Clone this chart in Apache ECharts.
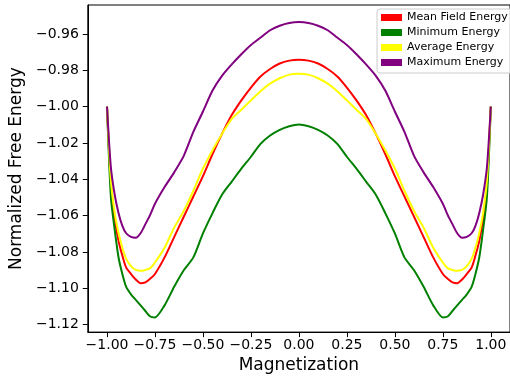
<!DOCTYPE html>
<html><head><meta charset="utf-8">
<script src="https://cdn.jsdelivr.net/npm/echarts@6/dist/echarts.min.js"></script>
<style>html,body{margin:0;padding:0;background:#fff;overflow:hidden}#c{width:510px;height:379px}</style>
</head><body><div id="c"></div>
<script>
const magnetization = [-1.00,-0.98,-0.96,-0.94,-0.92,-0.90,-0.875,-0.85,-0.825,-0.80,-0.775,-0.75,-0.70,-0.65,-0.60,-0.55,-0.50,-0.45,-0.40,-0.35,-0.30,-0.25,-0.20,-0.15,-0.10,-0.05,0.00,
  0.05,0.10,0.15,0.20,0.25,0.30,0.35,0.40,0.45,0.50,0.55,0.60,0.65,0.70,0.75,0.775,0.80,0.825,0.85,0.875,0.90,0.92,0.94,0.96,0.98,1.00];
const meanFieldEnergy = [-1.000,-1.0423,-1.0616,-1.0738,-1.082,-1.0886,-1.0921,-1.0952,-1.0972,-1.0967,-1.0947,-1.0921,-1.083,-1.0718,-1.0606,-1.0495,-1.0383,-1.0261,-1.0149,-1.0047,-0.9966,-0.9895,-0.9834,-0.9793,-0.9763,-0.9747,-0.9742,
  -0.9747,-0.9763,-0.9793,-0.9834,-0.9895,-0.9966,-1.0047,-1.0149,-1.0261,-1.0383,-1.0495,-1.0606,-1.0718,-1.083,-1.0921,-1.0947,-1.0967,-1.0972,-1.0952,-1.0921,-1.0886,-1.082,-1.0738,-1.0616,-1.0423,-1.000];
const minimumEnergy = [-1.000,-1.0495,-1.0677,-1.0829,-1.0921,-1.0992,-1.1033,-1.1064,-1.1094,-1.1125,-1.1155,-1.116,-1.1094,-1.0992,-1.0901,-1.083,-1.0698,-1.0586,-1.0484,-1.0413,-1.0342,-1.0276,-1.0205,-1.0159,-1.0128,-1.0108,-1.0098,
  -1.0108,-1.0128,-1.0159,-1.0205,-1.0276,-1.0342,-1.0413,-1.0484,-1.0586,-1.0698,-1.083,-1.0901,-1.0992,-1.1094,-1.116,-1.1155,-1.1125,-1.1094,-1.1064,-1.1033,-1.0992,-1.0921,-1.0829,-1.0677,-1.0495,-1.000];
const averageEnergy = [-1.000,-1.0403,-1.0584,-1.0696,-1.0777,-1.0838,-1.0878,-1.0899,-1.0904,-1.0899,-1.0889,-1.0858,-1.0777,-1.0666,-1.0575,-1.0463,-1.0341,-1.024,-1.0149,-1.0068,-1.0017,-0.9966,-0.9915,-0.9874,-0.9844,-0.9824,-0.9819,
  -0.9824,-0.9844,-0.9874,-0.9915,-0.9966,-1.0017,-1.0068,-1.0149,-1.024,-1.0341,-1.0463,-1.0575,-1.0666,-1.0777,-1.0858,-1.0889,-1.0899,-1.0904,-1.0899,-1.0878,-1.0838,-1.0777,-1.0696,-1.0584,-1.0403,-1.000];
const maximumEnergy = [-1.000,-1.0332,-1.0484,-1.0585,-1.0656,-1.0697,-1.0717,-1.0722,-1.0697,-1.0647,-1.0596,-1.0535,-1.0443,-1.0362,-1.0271,-1.0139,-1.0027,-0.9912,-0.9830,-0.9768,-0.9712,-0.9661,-0.962,-0.958,-0.9555,-0.954,-0.9535,
  -0.954,-0.9555,-0.958,-0.962,-0.9661,-0.9712,-0.9768,-0.9830,-0.9912,-1.0027,-1.0139,-1.0271,-1.0362,-1.0443,-1.0535,-1.0596,-1.0647,-1.0697,-1.0722,-1.0717,-1.0697,-1.0656,-1.0585,-1.0484,-1.0332,-1.000];
const seriesNames = ['Mean Field Energy','Minimum Energy','Average Energy','Maximum Energy'];
const seriesColors = ['#ff0000','#008000','#ffff00','#800080'];
const xTicks = [-1.00,-0.75,-0.50,-0.25,0.00,0.25,0.50,0.75,1.00];
const yTicks = [-1.12,-1.10,-1.08,-1.06,-1.04,-1.02,-1.00,-0.98,-0.96];

const seriesValues = [meanFieldEnergy, minimumEnergy, averageEnergy, maximumEnergy];
const FONT = 'DejaVu Sans';
const fmt = v => (Math.abs(v) < 1e-9 ? 0 : v).toFixed(2).replace('-', '\u2212');
const chart = echarts.init(document.getElementById('c'), null, {renderer: 'canvas'});
chart.setOption({
  animation: false,
  backgroundColor: '#fff',
  grid: {left: 87, top: 5, width: 425, height: 328, show: true, borderColor: '#000', borderWidth: 1, backgroundColor: 'transparent'},
  legend: {
    orient: 'vertical', left: 377, top: 9,
    data: seriesNames.map((n, i) => ({name: n, icon: 'rect', itemStyle: {color: seriesColors[i]}})),
    itemWidth: 21, itemHeight: 7, itemGap: 4, itemTextGap: 8,
    textStyle: {fontFamily: FONT, fontSize: 11, lineHeight: 11, color: '#000'},
    padding: [3, 8, 5, 4],
    backgroundColor: 'rgba(255,255,255,0.8)', borderColor: '#cccccc', borderWidth: 1, borderRadius: 3
  },
  xAxis: {
    type: 'value', min: -1.1, max: 1.1,
    name: 'Magnetization', nameLocation: 'middle', nameGap: 24,
    nameTextStyle: {fontFamily: FONT, fontSize: 17, color: '#000'},
    axisLine: {onZero: false, lineStyle: {color: '#000', width: 1}},
    axisTick: {show: true, customValues: xTicks, length: 5, lineStyle: {color: '#000'}},
    axisLabel: {customValues: xTicks, formatter: fmt, margin: 6, fontFamily: FONT, fontSize: 14, color: '#000'},
    splitLine: {show: false}
  },
  yAxis: {
    type: 'value', min: -1.1241, max: -0.9441,
    name: 'Normalized Free Energy', nameLocation: 'middle', nameGap: 62,
    nameTextStyle: {fontFamily: FONT, fontSize: 17, color: '#000'},
    axisLine: {show: true, onZero: false, lineStyle: {color: '#000', width: 1}},
    axisTick: {show: true, customValues: yTicks, length: 5, lineStyle: {color: '#000'}},
    axisLabel: {customValues: yTicks, formatter: fmt, margin: 9, fontFamily: FONT, fontSize: 14, color: '#000'},
    splitLine: {show: false}
  },
  series: seriesNames.map((n, i) => ({
    name: n, type: 'line', showSymbol: false, symbol: 'none', smooth: 0.25,
    color: seriesColors[i],
    lineStyle: {color: seriesColors[i], width: 2},
    data: magnetization.map((m, j) => [m, seriesValues[i][j]])
  }))
});
</script></body></html>
